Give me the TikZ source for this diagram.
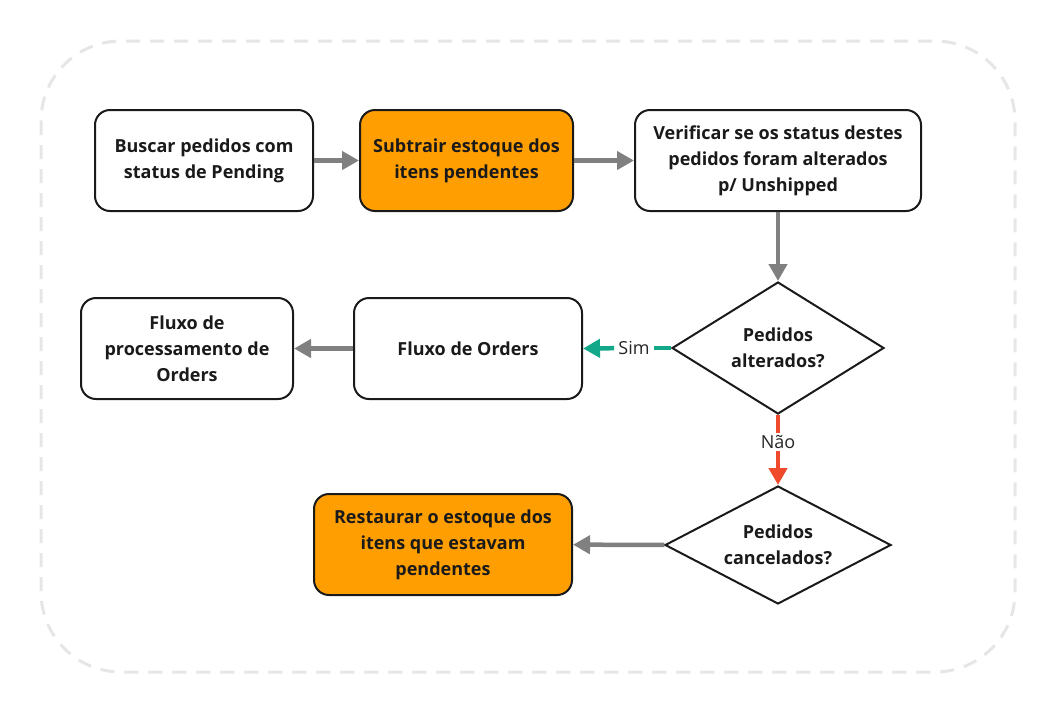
\documentclass[tikz,border=0pt]{standalone}
\usepackage{fontspec}
\setmainfont{Open Sans}
\usetikzlibrary{shapes.geometric,arrows.meta}
\definecolor{boxorange}{HTML}{FF9E00}
\definecolor{arrgray}{HTML}{808080}
\definecolor{simgreen}{HTML}{14A88B}
\definecolor{naored}{HTML}{F04A2C}
\definecolor{dashgray}{HTML}{E6E6E6}
\definecolor{txt}{HTML}{1A1A1A}
\tikzset{
  proc/.style={draw=txt, line width=2pt, rounded corners=15pt, fill=white, align=center,
    font=\fontsize{18}{26}\selectfont\bfseries, text=txt, minimum height=101pt, inner sep=0pt},
  hot/.style={proc, fill=boxorange},
  dec/.style={draw=txt, line width=2pt, diamond, fill=white, align=center, inner sep=0pt,
    font=\fontsize{18}{26}\selectfont\bfseries, text=txt},
  flow/.style={draw=arrgray, line width=4.5pt, -{Triangle[length=17pt,width=18pt]}},
  lbl/.style={font=\fontsize{18}{22}\selectfont, text=black!85, inner xsep=4pt, inner ysep=2pt}
}
\begin{document}
\begin{tikzpicture}[x=1pt,y=-1pt]
\useasboundingbox (0,0) rectangle (1059,713);
\draw[dashgray, line width=3pt, dash pattern=on 14pt off 10pt, rounded corners=80pt] (41,41) rectangle (1015,672);

\node[proc, minimum width=218pt] (n1) at (204,160.5) {Buscar pedidos com\\status de Pending};
\node[hot, minimum width=213pt] (n2) at (466.5,160.5) {Subtrair estoque dos\\itens pendentes};
\node[proc, minimum width=286pt] (n3) at (778,160.5) {Verificar se os status destes\\pedidos foram alterados\\p/ Unshipped};
\node[dec, aspect=1.6, minimum width=212pt, minimum height=132pt] (d1) at (778,348) {Pedidos\\alterados?};
\node[proc, minimum width=228pt] (n5) at (468,348.5) {Fluxo de Orders};
\node[proc, minimum width=212pt] (n6) at (187,348.5) {Fluxo de\\processamento de\\Orders};
\node[dec, aspect=1.9, minimum width=226pt, minimum height=118pt] (d2) at (778,545) {Pedidos\\cancelados?};
\node[hot, minimum width=258pt] (n8) at (443,544.5) {Restaurar o estoque dos\\itens que estavam\\pendentes};

\draw[flow] (n1) -- (n2);
\draw[flow] (n2) -- (n3);
\draw[flow] (n3) -- (d1);

\node[lbl] (sim) at (634,348) {Sim};
\draw[simgreen, line width=4.5pt] (d1.west) -- (sim);
\draw[flow, draw=simgreen, {Triangle[length=17pt,width=18pt]}-] (n5.east) -- (sim);

\node[lbl] (nao) at (778,442) {Não};
\draw[naored, line width=4.5pt] (d1.south) -- (nao);
\draw[flow, draw=naored] (nao) -- (d2.north);

\draw[flow] (n5) -- (n6);
\draw[flow] (d2) -- (n8);
\end{tikzpicture}
\end{document}
